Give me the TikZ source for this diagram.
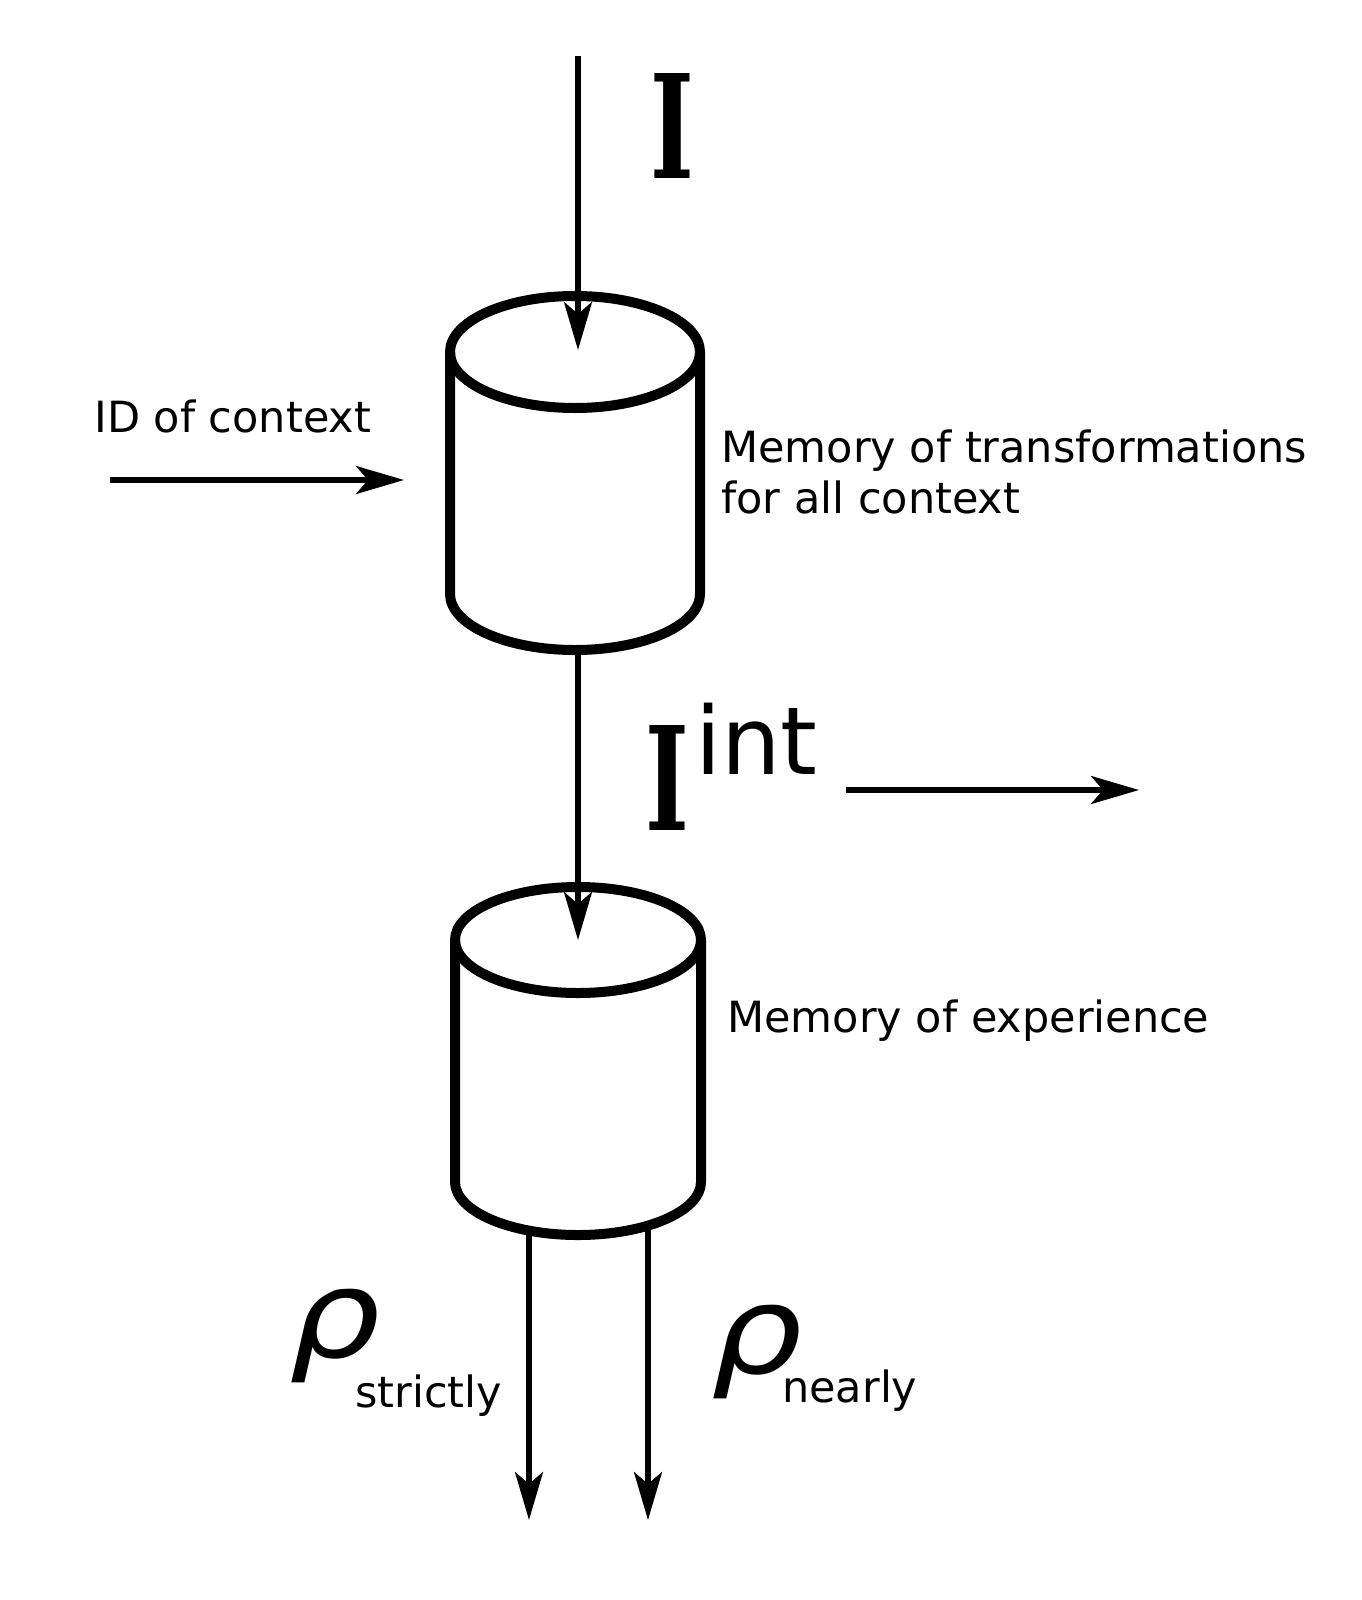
\documentclass[tikz,border=0pt]{standalone}
\usepackage{fontspec}
\setmainfont{DejaVu Sans}
\newfontfamily\slabfont{DejaVu Serif}
\usetikzlibrary{arrows.meta}

\begin{document}
\begin{tikzpicture}[x=0.5pt, y=-0.5pt,
	flow/.style={line width=2.6pt, -{Stealth[length=24pt, width=14pt, inset=6pt]}},
	drum/.style={line width=5pt, line join=round},
	lbl/.style={inner sep=0pt, anchor=base west, font=\fontsize{21.5}{25.5}\selectfont, align=left},
	bigI/.style={inner sep=0pt, anchor=base west, font=\slabfont\bfseries\fontsize{72}{72}\selectfont},
	rholbl/.style={inner sep=0pt, anchor=base west, font=\itshape\fontsize{61}{61}\selectfont}]
	\useasboundingbox (0,0) rectangle (1361,1600);
	% cylinders
	\coordinate (mttop) at (575,352); \coordinate (mtbot) at (575,594);
	\coordinate (mtl) at (450,352); \coordinate (mtr) at (700,352); \coordinate (mtbl) at (450,594);
	\coordinate (metop) at (578,940); \coordinate (mebot) at (578,1182);
	\coordinate (mel) at (455,940); \coordinate (mer) at (701,940); \coordinate (mebl) at (455,1182);
	\draw[drum] (mttop) ellipse [x radius=125, y radius=56];
	\draw[drum] (mtl) -- (mtbl) arc [start angle=180, end angle=0, x radius=125, y radius=56] -- (mtr);
	\draw[drum] (metop) ellipse [x radius=123, y radius=53];
	\draw[drum] (mel) -- (mebl) arc [start angle=180, end angle=0, x radius=123, y radius=53] -- (mer);
	% arrows
	\coordinate (in) at (578,56); \coordinate (intip) at (578,350);
	\coordinate (mtfoot) at (578,650);
	\coordinate (ctxin) at (110,480); \coordinate (ctxtip) at (404,480);
	\coordinate (outs) at (846,790); \coordinate (outtip) at (1139,790);
	\coordinate (sfoot) at (529,1231); \coordinate (send) at (529,1520);
	\coordinate (nfoot) at (648,1226); \coordinate (nend) at (648,1520);
	\draw[flow] (in) -- (intip);
	\draw[flow] (mtfoot) -- (metop);
	\draw[flow] (ctxin) -- (ctxtip);
	\draw[flow] (outs) -- (outtip);
	\draw[flow] (sfoot) -- (send);
	\draw[flow] (nfoot) -- (nend);
	% labels
	\node[bigI] (inI) at (650,178) {\scalebox{0.65}[1]{I}};
	\node[bigI] (intI) at (645,830) {\scalebox{0.65}[1]{I}\kern3pt\raisebox{28pt}{\normalfont\fontsize{47}{47}\selectfont int}};
	\node[lbl] (ctx) at (94,432) {ID of context};
	\node[lbl] (mtlbl) at (721,513) {Memory of transformations\\for all context};
	\node[lbl] (melbl) at (727,1032) {Memory of experience};
	\node[rholbl] (rhos) at (289,1357) {\scalebox{1.18}[1]{ρ}\kern-12.75pt\raisebox{-25pt}{\normalfont\fontsize{21.5}{21.5}\selectfont strictly}};
	\node[rholbl] (rhon) at (711,1373) {\scalebox{1.18}[1]{ρ}\kern-10.25pt\raisebox{-14.5pt}{\normalfont\fontsize{21.5}{21.5}\selectfont nearly}};
\end{tikzpicture}
\end{document}
